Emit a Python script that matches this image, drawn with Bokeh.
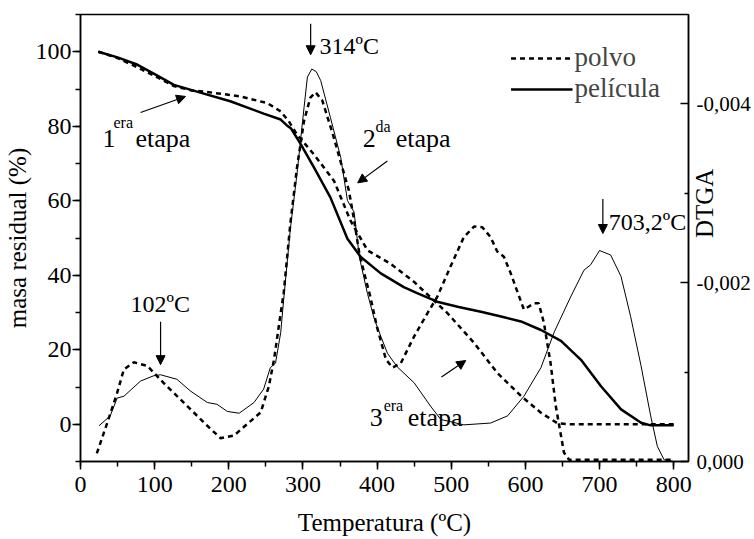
import math
from bokeh.plotting import figure
from bokeh.models import (Range1d, LinearAxis, FixedTicker, SingleIntervalTicker,
                          CustomJSTickFormatter, Legend, Label, Arrow, NormalHead)
from bokeh.embed import file_html
from bokeh.resources import INLINE

# ---------------- data ----------------
# TGA (masa residual %), película
tga_pel_T = [24, 50, 77, 100, 126, 157, 202, 247, 270, 278, 284, 297, 315, 337, 360, 378,
             405, 436, 454, 481, 510, 540, 570, 594, 621, 648, 675, 702, 729, 756, 769, 800]
tga_pel_m = [100, 98.5, 96.5, 94, 91.1, 89.3, 86.7, 83.4, 81.8, 80.3, 79.4, 75.2, 68.9, 60.9,
             49.8, 44.9, 40.5, 36.8, 35.2, 32.9, 31.5, 30.2, 28.8, 27.6, 25.3, 22.4, 17.3,
             10.2, 4.0, 0.4, -0.3, -0.3]

# TGA (masa residual %), polvo
tga_pol_T = [24, 50, 77, 100, 126, 150, 171, 216, 252, 270, 281, 292, 315, 342, 364, 387,
             418, 450, 495, 531, 562, 594, 621, 643, 660, 800]
tga_pol_m = [100, 98.3, 95.8, 93.5, 90.8, 89.6, 89.2, 88.0, 86.2, 84.0, 81.3, 77.8, 72.4,
             65.3, 54.7, 46.7, 43.1, 38.2, 29.8, 21.8, 13.8, 7.6, 3.1, 0.3, 0.0, 0.0]

# DTGA, polvo
dtga_pol_T = [22, 36, 49.5, 58.5, 72, 90, 112, 144, 171, 189, 207, 225, 243, 254, 261, 270,
              274, 283, 292, 301.5, 310, 317, 326, 340, 353, 362, 369, 376, 385, 391, 400,
              412, 421, 432, 450, 468, 481, 499, 517, 531, 542, 553, 562, 571, 580, 587,
              598, 612, 618, 625, 634, 641, 648, 652, 659, 800]
dtga_pol_v = [-0.00009, -0.00043, -0.00077, -0.00103, -0.00111, -0.00107, -0.00088, -0.00062,
              -0.00040, -0.00026, -0.00029, -0.00042, -0.00055, -0.00084, -0.00114, -0.00166,
              -0.00188, -0.00266, -0.00329, -0.00381, -0.00407, -0.00413, -0.00404, -0.00367,
              -0.00329, -0.00303, -0.00270, -0.00233, -0.00203, -0.00184, -0.00150, -0.00114,
              -0.00105, -0.00110, -0.00140, -0.00166, -0.00184, -0.00218, -0.00251, -0.00263,
              -0.00262, -0.00251, -0.00235, -0.00229, -0.00211, -0.00195, -0.00170, -0.00177,
              -0.00177, -0.00155, -0.00110, -0.00062, -0.00029, -0.00010, -0.00002, -0.00002]

# DTGA, película
dtga_pel_T = [25, 40, 49.5, 58.5, 81, 99, 108, 130, 148, 171, 184, 198, 214, 234, 247, 256,
              263, 270, 274, 283, 292, 301.5, 306, 312, 318, 324, 337, 351, 360, 369, 376,
              387, 396, 405, 414, 427, 450, 472, 486, 517, 553, 576, 598, 621, 639, 661, 679,
              688, 700, 715, 729, 742, 756, 769, 778, 787, 800]
dtga_pel_v = [-0.00040, -0.00051, -0.00071, -0.00073, -0.00090, -0.00096, -0.00097, -0.00092,
              -0.00079, -0.00066, -0.00064, -0.00056, -0.00054, -0.00066, -0.00081, -0.00105,
              -0.00110, -0.00144, -0.00181, -0.00260, -0.00322, -0.00396, -0.00430, -0.00439,
              -0.00436, -0.00426, -0.00385, -0.00340, -0.00292, -0.00279, -0.00229, -0.00188,
              -0.00160, -0.00140, -0.00121, -0.00106, -0.00088, -0.00062, -0.00047, -0.00041,
              -0.00043, -0.00051, -0.00073, -0.00105, -0.00145, -0.00184, -0.00214, -0.00220,
              -0.00236, -0.00231, -0.00207, -0.00162, -0.00107, -0.00051, -0.00017, -0.00002,
              0.0]

legend_labels = ["polvo", "película"]
dtga_ticks = [0.0, -0.002, -0.004]

FONT = "Liberation Serif"

# ---------------- figure ----------------
p = figure(width=752, height=538, output_backend="svg", toolbar_location=None,
           x_range=Range1d(0, 820), y_range=Range1d(-10, 110),
           min_border_left=80, min_border_right=64, min_border_top=14, min_border_bottom=76)
p.extra_y_ranges = {"dtga": Range1d(start=0, end=-0.005)}
p.xgrid.visible = False
p.ygrid.visible = False
p.outline_line_color = "black"
p.outline_line_width = 1.5
p.background_fill_color = "white"
p.border_fill_color = "white"

# bottom axis
xa = p.xaxis[0]
xa.ticker = SingleIntervalTicker(interval=100, num_minor_ticks=2)
xa.axis_label = "Temperatura (ºC)"
# left axis
ya = p.yaxis[0]
ya.ticker = SingleIntervalTicker(interval=20, num_minor_ticks=2)
ya.axis_label = "masa residual (%)"

for ax in (xa, ya):
    ax.axis_line_width = 1.5
    ax.major_tick_line_width = 1.5
    ax.minor_tick_line_width = 1.5
    ax.major_tick_in = 0
    ax.major_tick_out = 8
    ax.minor_tick_in = 0
    ax.minor_tick_out = 5
    ax.major_label_text_font = FONT
    ax.major_label_text_font_size = "24px"
    ax.major_label_text_color = "black"
    ax.axis_label_text_font = FONT
    ax.axis_label_text_font_size = "25px"
    ax.axis_label_text_font_style = "normal"
    ax.axis_label_text_color = "black"
    ax.axis_line_color = "black"
    ax.major_tick_line_color = "black"
    ax.minor_tick_line_color = "black"
xa.major_label_standoff = 7
xa.axis_label_standoff = 14
ya.major_label_standoff = 1
ya.axis_label_standoff = 2

# right axis (DTGA)
ra = LinearAxis(y_range_name="dtga",
                ticker=FixedTicker(ticks=dtga_ticks, minor_ticks=[-0.001, -0.003]),
                formatter=CustomJSTickFormatter(code="return tick.toFixed(3).replace('.', ',');"))
ra.axis_line_width = 1.5
ra.major_tick_line_width = 1.5
ra.minor_tick_line_width = 1.5
ra.major_tick_in = 8
ra.major_tick_out = 0
ra.minor_tick_in = 4
ra.minor_tick_out = 0
ra.major_label_standoff = 8
ra.major_label_text_font = FONT
ra.major_label_text_font_size = "21px"
ra.major_label_text_color = "black"
# title drawn inside the tick-label column, reading bottom-to-top, as in the original
ra.axis_label = "DTGA"
ra.axis_label_text_font = FONT
ra.axis_label_text_font_size = "25px"
ra.axis_label_text_font_style = "normal"
ra.axis_label_text_color = "black"
ra.axis_label_standoff = -49
if "axis_label_orientation" in ra.properties():
    ra.axis_label_orientation = math.pi / 2
p.add_layout(ra, "right")

# ---------------- curves ----------------
r_pol = p.line(tga_pol_T, tga_pol_m, line_color="black", line_width=2.5, line_dash="5 4")
r_pel = p.line(tga_pel_T, tga_pel_m, line_color="black", line_width=2.5)
p.line(dtga_pol_T, dtga_pol_v, y_range_name="dtga", line_color="black", line_width=2.5,
       line_dash="5 4")
p.line(dtga_pel_T, dtga_pel_v, y_range_name="dtga", line_color="black", line_width=1)

legend = Legend(items=[(legend_labels[0], [r_pol]), (legend_labels[1], [r_pel])],
                location="top_right", border_line_alpha=0, background_fill_alpha=0,
                label_text_font=FONT, label_text_font_size="27px", glyph_width=62,
                label_standoff=2, spacing=0, padding=0, margin=28)
p.add_layout(legend)

# ---------------- annotations ----------------
def lab(x, y, t, size, baseline="alphabetic", align="left", angle=0.0):
    p.add_layout(Label(x=x, y=y, text=t, text_font=FONT, text_font_size=size,
                       text_color="black", text_baseline=baseline, text_align=align,
                       angle=angle))

def arr(x0, y0, x1, y1):
    p.add_layout(Arrow(end=NormalHead(size=9, fill_color="black", line_color="black"),
                       x_start=x0, y_start=y0, x_end=x1, y_end=y1,
                       line_color="black", line_width=1.2))

lab(322.5, 101.6, "314ºC", "24px")
arr(310.4, 107.5, 310.4, 99.2)
lab(67.5, 32.3, "102ºC", "24px")
arr(108, 27.5, 108, 16)
lab(712.6, 54.2, "703,2ºC", "24px")
arr(704.5, 60.5, 704.5, 51.2)

lab(29.7, 76.8, "1", "26px")
lab(44.5, 81.1, "era", "16px")
lab(74.2, 76.8, "etapa", "26px")
arr(81, 83.7, 141.7, 88)

lab(380.6, 76.8, "2", "26px")
lab(398, 80.0, "da", "16px")
lab(425.1, 76.8, "etapa", "26px")
arr(413.9, 70.7, 373.8, 64.8)

lab(390, 1.9, "3", "26px")
lab(408.9, 5.1, "era", "16px")
lab(441.3, 1.9, "etapa", "26px")
arr(486.8, 12.7, 519.6, 17.1)

open("out.html", "w").write(file_html(p, INLINE))
